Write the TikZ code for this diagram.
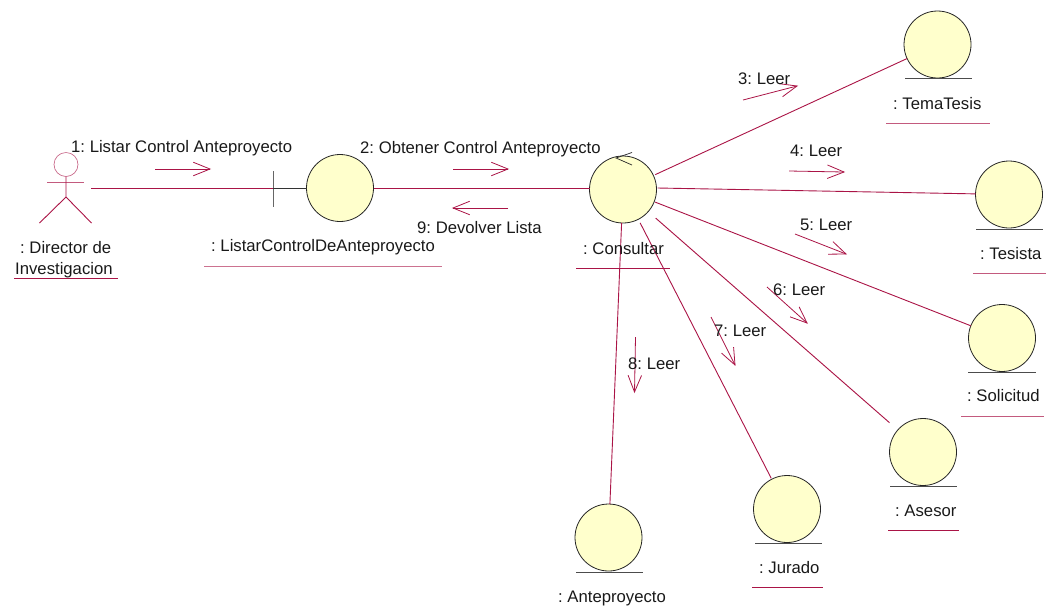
\documentclass[tikz,border=0pt]{standalone}
\usepackage{fontspec}
\setmainfont{Liberation Sans}
\usetikzlibrary{calc}
\frenchspacing
\definecolor{linkc}{RGB}{170,20,70}
\definecolor{fillc}{RGB}{255,255,204}
\tikzset{
  x=1pt,y=-1pt,
  ctrl/.style={circle,draw=black!85,fill=fillc,line width=0.8pt,minimum size=67pt,inner sep=0pt,outer sep=0pt},
  lnk/.style={draw=linkc,line width=0.9pt},
  msg/.style={draw=linkc,line width=0.8pt},
  lbl/.style={font=\fontsize{16.7}{20}\selectfont,text=black!90,inner sep=0pt,align=center},
  und/.style={draw=linkc,line width=0.8pt},
  base/.style={draw=black!70,line width=0.9pt}
}
\newcommand{\arrowmsg}[4]{%
  \coordinate (ms#1) at (#2);
  \coordinate (me#1) at (#3);
  \draw[msg] (ms#1) -- (me#1);
  \draw[msg] ($(me#1)!18pt!#4:(ms#1)$) -- (me#1) -- ($(me#1)!18pt!-#4:(ms#1)$);
}
\begin{document}
\begin{tikzpicture}
\useasboundingbox (0,0) rectangle (1048,614);
% entities
\node[ctrl] (lc) at (340,188) {};
\node[ctrl] (co) at (623,189.5) {};
\node[ctrl] (tt) at (937.5,44.5) {};
\node[ctrl] (te) at (1009,194.5) {};
\node[ctrl] (so) at (1002,338) {};
\node[ctrl] (as) at (923,452) {};
\node[ctrl] (ju) at (787,509) {};
\node[ctrl] (an) at (608.5,537.5) {};
% baselines
\draw[base] (905,78.5) -- (972,78.5);
\draw[base] (976,229) -- (1043,229);
\draw[base] (968,372) -- (1036,372);
\draw[base] (890,486) -- (957,486);
\draw[base] (755,543) -- (822,543);
\draw[base] (576,572) -- (643,572);
% actor
\node[circle,draw=linkc!70,line width=0.6pt,minimum size=24pt,inner sep=0pt] (head) at (66,164.5) {};
\coordinate (armL) at (47,182);
\coordinate (armR) at (84,182);
\coordinate (hip) at (66,197);
\coordinate (legL) at (39.5,223);
\coordinate (legR) at (91.5,223);
\draw[lnk,draw=linkc!70] (armL) -- (armR);
\draw[lnk] (head) -- (hip) -- (legL);
\draw[lnk] (hip) -- (legR);
% boundary
\coordinate (barT) at (273,171);
\coordinate (barM) at (273,188);
\coordinate (barB) at (273,207);
\coordinate (act) at (91,188);
\coordinate (coW) at (589.5,188);
\coordinate (coE) at (657.5,188);
\draw[draw=black!60,line width=0.9pt] (barT) -- (barB);
\draw[draw=black!80,line width=0.8pt] (barM) -- (lc.west);
% links
\draw[lnk] (act) -- (barM);
\draw[lnk] (lc.east) -- (coW);
\draw[lnk,shorten <=2pt] (co) -- (tt);
\draw[lnk] (coE) -- (te);
\draw[lnk,shorten <=1pt] (co) -- (so);
\draw[lnk,shorten <=10pt,shorten >=11pt] (co) -- (as);
\draw[lnk,shorten <=4pt,shorten >=1pt] (co) -- (ju);
\draw[lnk] (co) -- (an);
% control arrow
\coordinate (ca) at (616,158);
\draw[draw=black!85,line width=0.7pt] (632,152.5) -- (ca) -- (632,165);
% messages
\arrowmsg{1}{155,169}{210,169}{22}
\arrowmsg{2}{453,169}{508,169}{22}
\arrowmsg{9}{508,208}{453,208}{22}
\arrowmsg{3}{743,100}{797,86}{22}
\arrowmsg{4}{789,171}{844,172}{22}
\arrowmsg{5}{795,234}{846,254}{22}
\arrowmsg{6}{767,287}{807,323}{22}
\arrowmsg{7}{711,317}{735,365}{22}
\arrowmsg{8}{635.5,337}{634.5,392}{22}
% labels
\node[lbl,anchor=base west] (l1) at (71,152) {1: Listar Control Anteproyecto};
\node[lbl,anchor=base west] (l2) at (360,153) {2: Obtener Control Anteproyecto};
\node[lbl,anchor=base west] (l9) at (417,233) {9: Devolver Lista};
\node[lbl,anchor=base west] (l3) at (738,84) {3: Leer};
\node[lbl,anchor=base west] (l4) at (790,156) {4: Leer};
\node[lbl,anchor=base west] (l5) at (800,230) {5: Leer};
\node[lbl,anchor=base west] (l6) at (773,295) {6: Leer};
\node[lbl,anchor=base west] (l7) at (714,336) {7: Leer};
\node[lbl,anchor=base west] (l8) at (628,369) {8: Leer};
\node[lbl,anchor=base west] (n1) at (20,253) {: Director de};
\node[lbl,anchor=base west] (n1b) at (15,274) {Investigacion};
\node[lbl,anchor=base west] (n2) at (211,251.5) {: ListarControlDeAnteproyecto};
\node[lbl,anchor=base west] (n3) at (583,254) {: Consultar};
\node[lbl,anchor=base west] (n4) at (893,109.5) {: TemaTesis};
\node[lbl,anchor=base west] (n5) at (980,259.5) {: Tesista};
\node[lbl,anchor=base west] (n6) at (967,401) {: Solicitud};
\node[lbl,anchor=base west] (n7) at (895,516) {: Asesor};
\node[lbl,anchor=base west] (n8) at (759,573) {: Jurado};
\node[lbl,anchor=base west] (n9) at (558,602) {: Anteproyecto};
% underlines
\draw[und] (14,278) -- (118,278);
\draw[und,draw=linkc!60,line width=1pt] (204,266) -- (441.5,266);
\draw[und] (576,268) -- (670,268);
\draw[und,draw=linkc!70] (886,123) -- (989.5,123);
\draw[und,draw=linkc!70] (973,273) -- (1046,273);
\draw[und,draw=linkc!70] (961,416) -- (1044,416);
\draw[und] (888,530) -- (959,530);
\draw[und] (752,587) -- (823,587);
\end{tikzpicture}
\end{document}
